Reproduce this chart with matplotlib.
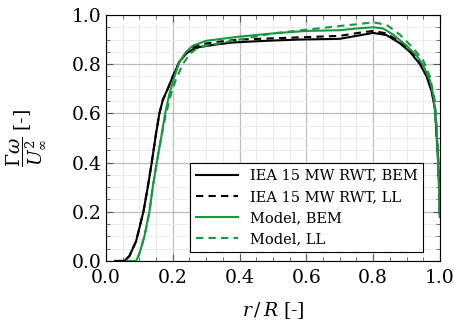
import matplotlib
matplotlib.use('Agg')
import matplotlib.pyplot as plt
from matplotlib.ticker import MultipleLocator

plt.rcParams['font.family'] = 'DejaVu Serif'
plt.rcParams['mathtext.fontset'] = 'dejavuserif'

# IEA 15 MW RWT, BEM
iea_bem_x = [0.027, 0.055, 0.07, 0.09, 0.112, 0.125, 0.137, 0.15, 0.16, 0.17, 0.185, 0.2, 0.22, 0.241, 0.26, 0.281,
             0.33, 0.38, 0.48, 0.58, 0.7, 0.75, 0.8, 0.84, 0.88, 0.91, 0.94, 0.96, 0.975, 0.985, 0.993, 0.998, 1.0]
iea_bem_y = [0.0, 0.0, 0.02, 0.08, 0.2, 0.3, 0.4, 0.52, 0.6, 0.654, 0.7, 0.75, 0.81, 0.844, 0.86, 0.87,
             0.88, 0.888, 0.895, 0.9, 0.903, 0.915, 0.927, 0.918, 0.885, 0.85, 0.8, 0.75, 0.69, 0.62, 0.45, 0.3, 0.18]

# IEA 15 MW RWT, LL
iea_ll_x = [0.027, 0.055, 0.07, 0.09, 0.112, 0.125, 0.137, 0.15, 0.16, 0.17, 0.185, 0.2, 0.22, 0.241, 0.26, 0.281,
            0.33, 0.4, 0.5, 0.6, 0.7, 0.76, 0.8, 0.84, 0.88, 0.91, 0.94, 0.96, 0.975, 0.985, 0.993, 0.998, 1.0]
iea_ll_y = [0.0, 0.0, 0.02, 0.08, 0.2, 0.3, 0.4, 0.52, 0.6, 0.654, 0.7, 0.75, 0.81, 0.848, 0.867, 0.88,
            0.89, 0.9, 0.905, 0.91, 0.915, 0.928, 0.935, 0.925, 0.89, 0.855, 0.805, 0.755, 0.695, 0.625, 0.46, 0.3, 0.18]

# Model, BEM
mod_bem_x = [0.065, 0.09, 0.1, 0.115, 0.13, 0.14, 0.152, 0.165, 0.177, 0.19, 0.205, 0.22, 0.24, 0.26, 0.3,
             0.4, 0.5, 0.6, 0.7, 0.75, 0.8, 0.83, 0.86, 0.9, 0.93, 0.95, 0.97, 0.98, 0.99, 0.995, 1.0]
mod_bem_y = [0.0, 0.0, 0.03, 0.1, 0.2, 0.3, 0.4, 0.5, 0.6, 0.68, 0.75, 0.81, 0.85, 0.875, 0.895,
             0.912, 0.925, 0.935, 0.938, 0.945, 0.95, 0.945, 0.92, 0.875, 0.835, 0.795, 0.735, 0.675, 0.55, 0.38, 0.18]

# Model, LL
mod_ll_x = [0.065, 0.09, 0.1, 0.115, 0.13, 0.14, 0.152, 0.165, 0.18, 0.195, 0.21, 0.23, 0.25, 0.27, 0.3,
            0.4, 0.5, 0.6, 0.7, 0.75, 0.8, 0.84, 0.88, 0.92, 0.95, 0.97, 0.985, 0.995, 1.0]
mod_ll_y = [0.0, 0.0, 0.03, 0.1, 0.2, 0.3, 0.4, 0.5, 0.6, 0.68, 0.74, 0.8, 0.84, 0.862, 0.875,
            0.9, 0.925, 0.94, 0.955, 0.962, 0.97, 0.96, 0.92, 0.865, 0.815, 0.75, 0.65, 0.42, 0.18]

green = '#1a9641'

fig = plt.figure(figsize=(4.54, 3.25), dpi=100)
ax = fig.add_axes([0.2335, 0.197, 0.7355, 0.757])

ax.plot(iea_bem_x, iea_bem_y, color='black', lw=1.5, label='IEA 15 MW RWT, BEM')
ax.plot(iea_ll_x, iea_ll_y, color='black', lw=1.5, ls=(0, (3.5, 2.5)), label='IEA 15 MW RWT, LL')
ax.plot(mod_bem_x, mod_bem_y, color=green, lw=1.5, label='Model, BEM')
ax.plot(mod_ll_x, mod_ll_y, color=green, lw=1.5, ls=(0, (3.5, 2.5)), label='Model, LL')

ax.set_xlim(0, 1)
ax.set_ylim(0, 1)
ax.xaxis.set_major_locator(MultipleLocator(0.2))
ax.yaxis.set_major_locator(MultipleLocator(0.2))
ax.xaxis.set_minor_locator(MultipleLocator(0.05))
ax.yaxis.set_minor_locator(MultipleLocator(0.05))
ax.grid(which='major', color='#bdbdbd', lw=0.9)
ax.grid(which='minor', color='#ebebeb', lw=0.7)
ax.set_axisbelow(True)
ax.tick_params(which='both', direction='in', top=True, right=True, labelsize=13.5, color='#555555')
ax.tick_params(which='major', length=5)
ax.tick_params(axis='x', which='major', pad=6)
ax.tick_params(which='minor', length=3)

ax.set_xlabel(r'$r\,/\,R$ [-]', fontsize=13.5, labelpad=9)
ax.set_ylabel(r'$\dfrac{\Gamma\omega}{U_\infty^2}$ [-]', fontsize=13.5)
ax.yaxis.set_label_coords(-0.175, 0.5)

leg = ax.legend(loc='lower right', bbox_to_anchor=(0.95, 0.035), fontsize=10.5, fancybox=False,
                edgecolor='black', framealpha=1, handlelength=2.9, borderaxespad=0)
leg.get_frame().set_linewidth(0.8)

fig.savefig('out.png', dpi=100)
